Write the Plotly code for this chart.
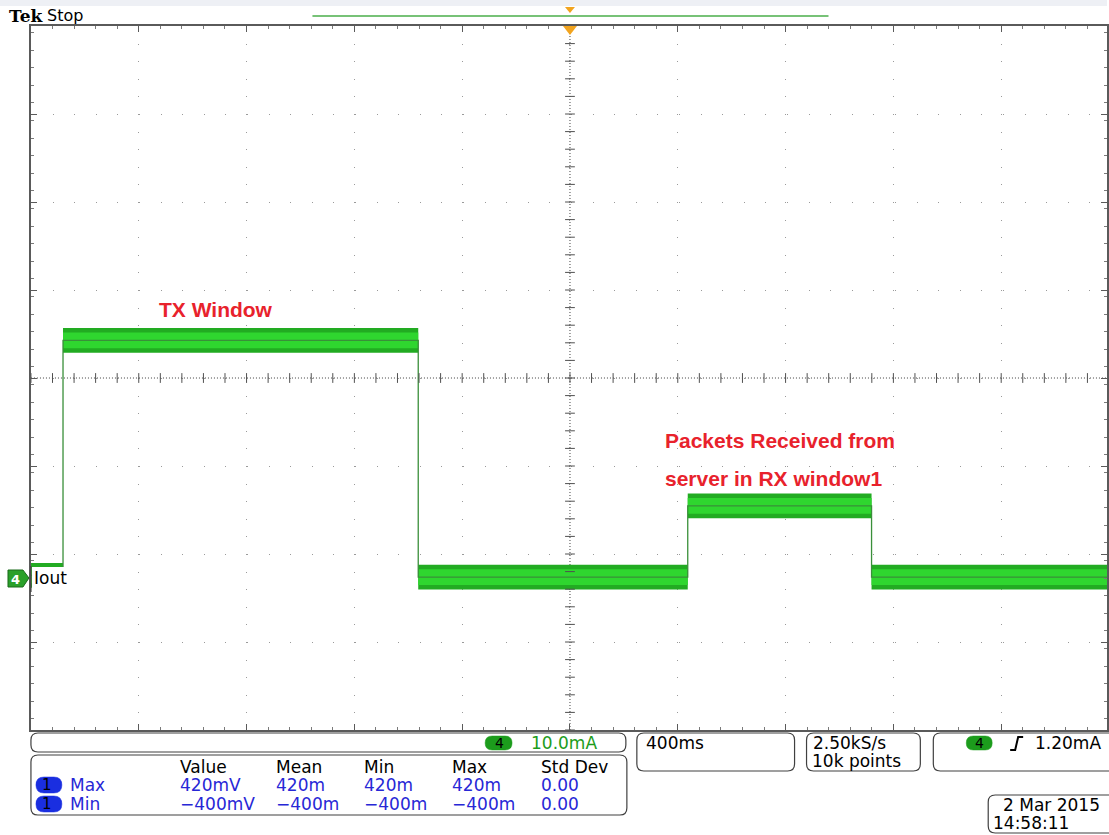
import numpy as np
import plotly.graph_objects as go

# ---------------- data ----------------
# channel 4 current (mA) vs time (s); 400 ms/div, 10 mA/div
edge_times = [-2.0, -1.881, -0.563, 0.437, 1.119, 1.993]   # segment boundaries (s)
levels_mA = [0.3, 27.0, 0.1, 8.2, 0.1]                      # mean level per segment
noise_mA = [1.4, 1.4, 1.4, 1.4, 1.4]                        # noise envelope half width
core_mA = [0.9, 0.9, 0.9, 0.9, 0.9]                         # dense core half width

time_per_div = 0.4
mA_per_div = 10.0
ground_offset_div = 2.273   # trace ground marker sits 2.27 div below centre

meas_headers = ["Value", "Mean", "Min", "Max", "Std Dev"]
meas_rows = [("Max", ["420mV", "420m", "420m", "420m", "0.00"]),
             ("Min", ["\u2212400mV", "\u2212400m", "\u2212400m", "\u2212400m", "0.00"])]
annot_tx = "TX Window"
annot_rx = ["Packets Received from", "server in RX window1"]

# ---------------- geometry helpers ----------------
W, H = 1109, 835
L_PX, R_PX, T_PX, B_PX = 31, 1109, 26, 730
DIV_X = 108.0
DIV_Y = 88.0

def px(x):
    return x / W

def py(y):
    return 1 - y / H

xmin = -5 * time_per_div
xmax = xmin + (R_PX - L_PX) / DIV_X * time_per_div
ycenter = ground_offset_div * mA_per_div
ymin = ycenter - 4 * mA_per_div
ymax = ycenter + 4 * mA_per_div

GREEN_DARK = "#22ab22"
GREEN_BRIGHT = "#2fd62f"
GREEN_EDGE = "#3a8f3a"

fig = go.Figure()

# noise envelope bands
for i, lvl in enumerate(levels_mA):
    t0, t1 = edge_times[i], edge_times[i + 1]
    hw = noise_mA[i]
    fig.add_trace(go.Scatter(x=[t0, t1, t1, t0, t0], y=[lvl - hw, lvl - hw, lvl + hw, lvl + hw, lvl - hw],
                             fill="toself", fillcolor=GREEN_DARK, line=dict(width=0),
                             mode="lines", hoverinfo="skip", showlegend=False))
    cw = core_mA[i]
    fig.add_trace(go.Scatter(x=[t0, t1, t1, t0, t0], y=[lvl - cw, lvl - cw, lvl + cw, lvl + cw, lvl - cw],
                             fill="toself", fillcolor=GREEN_BRIGHT, line=dict(width=0),
                             mode="lines", hoverinfo="skip", showlegend=False))

# step outline with vertical edges
fig.add_trace(go.Scatter(x=edge_times[:-1] + [edge_times[-1]], y=levels_mA + [levels_mA[-1]],
                         mode="lines", line=dict(shape="hv", color=GREEN_EDGE, width=1.3),
                         hoverinfo="skip", showlegend=False))

# crosshair tick marks
xt = np.arange(xmin, xmax + 1e-9, time_per_div / 5)
fig.add_trace(go.Scatter(x=xt, y=[ycenter] * len(xt), mode="markers",
                         marker=dict(symbol="line-ns", size=7, line=dict(width=1, color="#505050")),
                         hoverinfo="skip", showlegend=False))
yt = np.arange(ymin, ymax + 1e-9, mA_per_div / 5)
fig.add_trace(go.Scatter(x=[0.0] * len(yt), y=yt, mode="markers",
                         marker=dict(symbol="line-ew", size=7, line=dict(width=1, color="#505050")),
                         hoverinfo="skip", showlegend=False))

shapes = []
annotations = []

# crosshair dotted lines
shapes.append(dict(type="line", xref="x", yref="y", x0=0, x1=0, y0=ymin, y1=ymax,
                   line=dict(color="#404040", width=1, dash="1px,2px"), layer="below"))
shapes.append(dict(type="line", xref="x", yref="y", x0=xmin, x1=xmax, y0=ycenter, y1=ycenter,
                   line=dict(color="#404040", width=1, dash="1px,2px"), layer="below"))


def rrect(x0, y0, x1, y1, r=7):
    X = lambda v: f"{px(v):.5f}"
    Y = lambda v: f"{py(v):.5f}"
    return (f"M {X(x0 + r)},{Y(y0)} L {X(x1 - r)},{Y(y0)} Q {X(x1)},{Y(y0)} {X(x1)},{Y(y0 + r)} "
            f"L {X(x1)},{Y(y1 - r)} Q {X(x1)},{Y(y1)} {X(x1 - r)},{Y(y1)} "
            f"L {X(x0 + r)},{Y(y1)} Q {X(x0)},{Y(y1)} {X(x0)},{Y(y1 - r)} "
            f"L {X(x0)},{Y(y0 + r)} Q {X(x0)},{Y(y0)} {X(x0 + r)},{Y(y0)} Z")


def box(x0, y0, x1, y1, r=7, fill="white", line="#404040", lw=1.2):
    shapes.append(dict(type="path", xref="paper", yref="paper", path=rrect(x0, y0, x1, y1, r),
                       fillcolor=fill, line=dict(color=line, width=lw), layer="above"))


def text(x, y, s, size=17, color="black", family="DejaVu Sans", anchor="left", bold=False):
    if bold:
        s = f"<b>{s}</b>"
    annotations.append(dict(x=px(x), y=py(y), xref="paper", yref="paper", text=s, showarrow=False,
                            xanchor=anchor, yanchor="middle",
                            font=dict(size=size, color=color, family=family)))


# top bar
shapes.append(dict(type="rect", xref="paper", yref="paper", x0=0, x1=1, y0=py(6), y1=1,
                   fillcolor="#eef0f5", line=dict(width=0), layer="above"))
text(7, 16, "Tek", size=17, family="DejaVu Serif", bold=True)
text(45, 16, "Stop", size=16, family="DejaVu Sans")
shapes.append(dict(type="line", xref="paper", yref="paper", x0=px(313), x1=px(830), y0=py(16), y1=py(16),
                   line=dict(color="#4aae4a", width=1.5), layer="above"))
ORANGE = "#f2a41e"
shapes.append(dict(type="path", xref="paper", yref="paper",
                   path=f"M {px(566)},{py(7)} L {px(576)},{py(7)} L {px(571)},{py(13)} Z",
                   fillcolor=ORANGE, line=dict(width=0), layer="above"))
shapes.append(dict(type="path", xref="paper", yref="paper",
                   path=f"M {px(564)},{py(26)} L {px(578)},{py(26)} L {px(571)},{py(35)} Z",
                   fillcolor=ORANGE, line=dict(width=0), layer="above"))

# left channel marker + label
shapes.append(dict(type="rect", xref="paper", yref="paper", x0=px(32), x1=px(71), y0=py(592), y1=py(567),
                   fillcolor="white", line=dict(width=0), layer="above"))
shapes.append(dict(type="line", xref="paper", yref="paper", x0=px(31), x1=px(31), y0=py(592), y1=py(566),
                   line=dict(color="#404040", width=1.2), layer="above"))
shapes.append(dict(type="path", xref="paper", yref="paper",
                   path=f"M {px(8)},{py(570)} L {px(23)},{py(570)} L {px(29)},{py(578)} L {px(23)},{py(587)} L {px(8)},{py(587)} Z",
                   fillcolor="#2aa02a", line=dict(color="#1a6a1a", width=1), layer="above"))
text(16, 579, "4", size=13, color="white", bold=True, anchor="center")
text(32, 578, "Iout", size=17)

# in-plot annotations
RED = "#e8222c"
text(216, 309, annot_tx, size=21, color=RED, family="Liberation Sans", bold=True, anchor="center")
text(664, 440, annot_rx[0], size=21, color=RED, family="Liberation Sans", bold=True)
text(664, 478, annot_rx[1], size=21, color=RED, family="Liberation Sans", bold=True)

# bottom status boxes
box(31, 733, 627, 752)
box(486, 736, 513, 750, r=7, fill="#1c9c1c", line="#1c9c1c", lw=0.5)
text(500, 743, "4", size=14, color="black", anchor="center")
text(530, 743, "10.0mA", size=17, color="#1c9c1c")

box(31, 755, 628, 815)
hx = [178, 274, 363, 451, 540]
for xh, h in zip(hx, meas_headers):
    text(xh, 767, h)
BLUE = "#2727d6"
for r, (name, vals) in enumerate(meas_rows):
    yy = 785 + r * 19
    box(36, yy - 8, 62, yy + 8, r=8, fill="#1a2ee0", line="#1a2ee0", lw=0.5)
    text(47, yy, "1", size=15, color="black", anchor="center")
    text(68, yy, name, color=BLUE)
    for xh, v in zip(hx, vals):
        text(xh, yy, v, color=BLUE)

box(638, 733, 796, 771)
text(645, 743, "400ms")
box(808, 733, 922, 771)
text(812, 743, "2.50kS/s")
text(811, 761, "10k points")
box(935, 733, 1118, 771)
box(968, 736, 994, 750, r=7, fill="#1c9c1c", line="#1c9c1c", lw=0.5)
text(981, 743, "4", size=14, color="black", anchor="center")
shapes.append(dict(type="path", xref="paper", yref="paper",
                   path=f"M {px(1012)},{py(750)} L {px(1017)},{py(750)} L {px(1020)},{py(737)} L {px(1025)},{py(737)}",
                   line=dict(color="black", width=2), layer="above"))
text(1035, 743, "1.20mA")
box(990, 795, 1118, 833)
text(1104, 805, "2 Mar 2015", anchor="right")
text(993, 823, "14:58:11")

fig.update_layout(
    width=W, height=H, autosize=False,
    margin=dict(l=0, r=0, t=0, b=0),
    paper_bgcolor="white", plot_bgcolor="white",
    shapes=shapes, annotations=annotations,
    xaxis=dict(domain=[px(L_PX), 1], range=[xmin, xmax], tickmode="linear", tick0=xmin, dtick=time_per_div,
               showgrid=True, gridcolor="#9a9a9a", gridwidth=1, griddash="1px,16.6px",
               showline=True, linecolor="#5a5a5a", linewidth=1.5, mirror="ticks",
               ticks="inside", ticklen=6, tickcolor="#5a5a5a", showticklabels=False, zeroline=False,
               minor=dict(dtick=time_per_div / 5, ticks="inside", ticklen=3, tickcolor="#7a7a7a", showgrid=False)),
    yaxis=dict(domain=[py(B_PX), py(T_PX)], range=[ymin, ymax], tickmode="linear", tick0=ymin, dtick=mA_per_div,
               showgrid=True, gridcolor="#9a9a9a", gridwidth=1, griddash="1px,20.6px",
               showline=True, linecolor="#5a5a5a", linewidth=1.5, mirror="ticks",
               ticks="inside", ticklen=6, tickcolor="#5a5a5a", showticklabels=False, zeroline=False,
               minor=dict(dtick=mA_per_div / 5, ticks="inside", ticklen=3, tickcolor="#7a7a7a", showgrid=False)),
)

fig.write_html("out.html", config={"displayModeBar": False},
               post_script="document.body.style.margin='0';document.body.style.overflow='hidden';")
